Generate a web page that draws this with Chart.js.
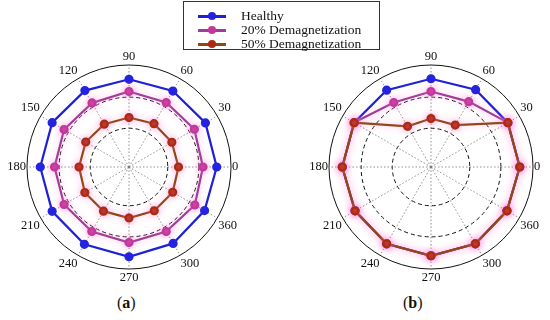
<!DOCTYPE html>
<html lang="en">
<head>
    <meta charset="UTF-8">
    <title>Polar demagnetization</title>
    <script src="https://cdn.jsdelivr.net/npm/chart.js"></script>
    <style>
        body {
            margin: 0;
            background: #fff;
            font-family: "Liberation Serif", serif;
        }
        #page {
            position: relative;
            width: 550px;
            height: 320px;
            overflow: hidden;
        }
        .plot {
            position: absolute;
            top: 49px;
            width: 256px;
            height: 236px;
        }
        #legend {
            position: absolute;
            left: 183px;
            top: 1px;
            width: 195px;
            height: 47px;
            border: 1px solid #333;
            background: #fff;
        }
        .item {
            position: absolute;
            left: 0;
            height: 14px;
            font-size: 13.5px;
            line-height: 14px;
            color: #111;
        }
        .item .ln {
            position: absolute;
            left: 14px;
            top: 6px;
            width: 28px;
            height: 2.5px;
        }
        .item .dot {
            position: absolute;
            left: 24px;
            top: 3px;
            width: 8px;
            height: 8px;
            border-radius: 50%;
        }
        .item .txt {
            position: absolute;
            left: 57px;
            top: 0;
            white-space: nowrap;
        }
        .cap {
            position: absolute;
            top: 294px;
            font-size: 16px;
            color: #111;
        }
    </style>
</head>
<body>
<div id="page">
    <div class="plot" style="left:-3px"><canvas id="chartA"></canvas></div>
    <div class="plot" style="left:299px"><canvas id="chartB"></canvas></div>
    <div id="legend"></div>
    <div class="cap" style="left:117px">(<b>a</b>)</div>
    <div class="cap" style="left:403px">(<b>b</b>)</div>
</div>

<script>
    // angle labels, clockwise from the top
    const angles = ['90', '60', '30', '0', '360', '300', '270', '240', '210', '180', '150', '120'];
    // first tick (centre) is never drawn by the radial scale
    const radialTicks = [0, 38, 68.5, 100];

    const names = ['Healthy', '20% Demagnetization', '50% Demagnetization'];

    // (a)
    const healthyA = [86, 86, 86.5, 86, 85.5, 86.5, 88, 87.5, 87, 87, 87, 86.5];
    const demag20A = [74, 73, 74, 72.5, 74.5, 73, 74, 73, 73.5, 73, 73.5, 72.5];
    const demag50A = [48.5, 49, 48.5, 48.5, 49.5, 49.5, 50, 50, 50, 49, 49, 48.5];

    // (b)
    const healthyB = [86.5, 87.5, 87, 87, 86, 87, 87, 87, 86, 87, 87, 87];
    const demag20B = [74, 74, 87, 87, 86, 87, 87, 87, 86, 87, 87, 73];
    const demag50B = [47.5, 47.5, 87, 87, 86, 87, 87, 87, 86, 87, 87, 46];

    const styles = [
        { line: '#2020d8', point: '#2424e0', glow: false },
        { line: '#a33c96', point: '#c2379a', glow: true },
        { line: '#934717', point: '#ad2a10', glow: true }
    ];

    // legend
    const legend = document.getElementById('legend');
    names.forEach((n, i) => {
        const row = document.createElement('div');
        row.className = 'item';
        row.style.top = (7 + i * 14) + 'px';
        row.innerHTML = '<span class="ln" style="background:' + styles[i].line + '"></span>' +
            '<span class="dot" style="background:' + styles[i].point + '"></span>' +
            '<span class="txt">' + n + '</span>';
        legend.appendChild(row);
    });

    Chart.defaults.font.family = '"Liberation Serif", serif';

    // pink halo around the demagnetized curves
    const glowPlugin = {
        id: 'glow',
        beforeDatasetDraw(chart, args) {
            const ds = chart.data.datasets[args.index];
            if (!ds.glow) return;
            chart.ctx.save();
            chart.ctx.shadowColor = 'rgba(255, 120, 215, 0.5)';
            chart.ctx.shadowBlur = 7;
        },
        afterDatasetDraw(chart, args) {
            const ds = chart.data.datasets[args.index];
            if (!ds.glow) return;
            chart.ctx.restore();
        }
    };

    function makeDatasets(series) {
        return series.map((data, i) => ({
            label: names[i],
            data: data,
            borderColor: styles[i].line,
            backgroundColor: styles[i].point,
            pointBackgroundColor: styles[i].point,
            pointBorderColor: styles[i].point,
            pointRadius: 3.5,
            borderWidth: 2.2,
            fill: false,
            glow: styles[i].glow,
            order: 3 - i
        }));
    }

    function polar(id, series) {
        new Chart(document.getElementById(id), {
            type: 'radar',
            data: { labels: angles, datasets: makeDatasets(series) },
            plugins: [glowPlugin],
            options: {
                responsive: true,
                maintainAspectRatio: false,
                animation: false,
                layout: { padding: 0 },
                plugins: {
                    legend: { display: false },
                    tooltip: { enabled: false }
                },
                scales: {
                    r: {
                        min: 0,
                        max: 100,
                        afterBuildTicks: (scale) => {
                            scale.ticks = radialTicks.map(v => ({ value: v }));
                        },
                        ticks: { display: false },
                        grid: {
                            circular: true,
                            color: '#111',
                            lineWidth: 1
                        },
                        border: {
                            dash: (ctx) => (ctx.tick && ctx.tick.value < 100) ? [4, 3] : []
                        },
                        angleLines: {
                            color: '#777',
                            lineWidth: 0.8,
                            borderDash: [1.5, 2]
                        },
                        pointLabels: {
                            color: '#111',
                            padding: 1,
                            font: { size: 12.5 }
                        }
                    }
                }
            }
        });
    }

    polar('chartA', [healthyA, demag20A, demag50A]);
    polar('chartB', [healthyB, demag20B, demag50B]);
</script>
</body>
</html>
